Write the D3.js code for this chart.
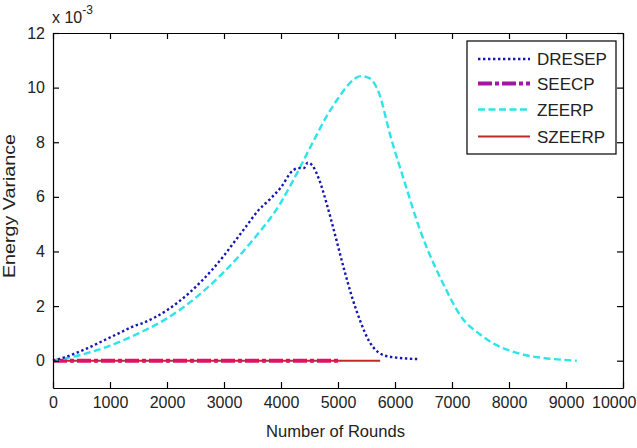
<!DOCTYPE html>
<html>
<head>
<meta charset="utf-8">
<script src="https://cdn.jsdelivr.net/npm/d3@7"></script>
<style>
  html, body { margin: 0; padding: 0; background: #fff; }
  svg { display: block; font-family: "Liberation Sans", Arial, sans-serif; }
</style>
</head>
<body>
<div id="chart"></div>
<script>
// --- data (y in units of 1e-3) ---------------------------------------
const xTicks = [0, 1000, 2000, 3000, 4000, 5000, 6000, 7000, 8000, 9000, 10000];
const yTicks = [0, 2, 4, 6, 8, 10, 12];

const dresepRounds = [0, 200, 400, 600, 800, 1000, 1200, 1400, 1600, 1800, 2000, 2200, 2400, 2600,
  2800, 3000, 3200, 3400, 3600, 3800, 4000, 4200, 4300, 4400, 4470, 4550, 4625, 4700, 4800,
  4950, 5100, 5250, 5400, 5550, 5700, 5800, 6000, 6200, 6390];
const dresepVar = [0, 0.12, 0.28, 0.45, 0.65, 0.85, 1.05, 1.25, 1.4, 1.6, 1.85, 2.15, 2.5, 2.9,
  3.35, 3.85, 4.4, 4.95, 5.5, 5.9, 6.35, 6.95, 7.05, 7.05, 7.25, 7.15, 6.86, 6.45, 5.76,
  4.6, 3.4, 2.3, 1.4, 0.7, 0.32, 0.2, 0.12, 0.08, 0.06];

const seecpRounds = [0, 1000, 2000, 3000, 4000, 5030];
const seecpVar = [0, 0, 0, 0, 0, 0];

const zeerpRounds = [0, 500, 1000, 1500, 2000, 2500, 3000, 3500, 4000, 4200,
  4560, 4800, 5000, 5200, 5400, 5550, 5700, 5940, 6140, 6440, 6900, 7140, 7500, 7800, 8000,
  8300, 8600, 8900, 9190];
const zeerpVar = [0, 0.22, 0.55, 1.0, 1.55, 2.3, 3.25, 4.4, 5.8, 6.55,
  8.0, 8.95, 9.6, 10.15, 10.42, 10.35, 9.9, 8.08, 6.73, 4.78, 2.59, 1.67, 0.95, 0.55, 0.38,
  0.2, 0.1, 0.04, 0.0];

const szeerpRounds = [0, 1000, 2000, 3000, 4000, 5000, 5740];
const szeerpVar = [0, 0, 0, 0, 0, 0, 0];
// ----------------------------------------------------------------------

(function () {
  const width = 637, height = 448;
  const margin = { top: 33, right: 14, bottom: 60, left: 53 };
  const w = width - margin.left - margin.right;
  const h = height - margin.top - margin.bottom;

  const series = [
    { name: "DRESEP", xs: dresepRounds, ys: dresepVar, color: "#1616b4", plotColor: "#1616b4",
      width: 2.4, dash: "2.4,2.6" },
    { name: "SEECP", xs: seecpRounds, ys: seecpVar, color: "#a814a8", plotColor: "#dc1464",
      width: 4, dash: "14,3,4,3" },
    { name: "ZEERP", xs: zeerpRounds, ys: zeerpVar, color: "#2ee4e8", plotColor: "#2ee4e8",
      width: 2.4, dash: "7,3.5" },
    { name: "SZEERP", xs: szeerpRounds, ys: szeerpVar, color: "#c0282a", plotColor: "#c0282a",
      width: 2, dash: null }
  ];

  const svg = d3.select("#chart").append("svg")
    .attr("width", width)
    .attr("height", height);

  const g = svg.append("g")
    .attr("transform", `translate(${margin.left},${margin.top})`);

  const x = d3.scaleLinear().domain([0, 10000]).range([0, w]);
  const y = d3.scaleLinear().domain([-1, 12]).range([h, 0]);

  g.append("rect")
    .attr("width", w).attr("height", h)
    .attr("fill", "#fff");

  const line = d3.line()
    .x(d => x(d[0]))
    .y(d => y(d[1]))
    .curve(d3.curveMonotoneX);

  // SZEERP underneath, the others on top
  [3, 1, 2, 0].forEach(i => {
    const s = series[i];
    g.append("path")
      .datum(s.xs.map((v, j) => [v, s.ys[j]]))
      .attr("fill", "none")
      .attr("stroke", s.plotColor)
      .attr("stroke-width", s.width)
      .attr("stroke-dasharray", s.dash)
      .attr("d", line);
  });

  // axes: inward ticks, MATLAB box
  const fontSize = "16px";
  const styleAxis = sel => {
    sel.select(".domain").attr("stroke", "#000").attr("stroke-width", 1.2);
    sel.selectAll(".tick line").attr("stroke", "#000").attr("stroke-width", 1.2);
    sel.selectAll("text").attr("fill", "#222").style("font-size", fontSize);
  };

  const xAxis = g.append("g")
    .attr("transform", `translate(0,${h})`)
    .call(d3.axisBottom(x).tickValues(xTicks).tickFormat(d3.format("d"))
      .tickSizeInner(-6).tickSizeOuter(0).tickPadding(9))
    .call(styleAxis);
  // last label would run off the page: pull it inside
  xAxis.selectAll(".tick text")
    .filter(d => d === 10000)
    .attr("text-anchor", "end")
    .attr("x", width - margin.left - w - 1);

  g.append("g")
    .call(d3.axisTop(x).tickValues(xTicks).tickSizeInner(-6).tickSizeOuter(0).tickFormat(""))
    .call(styleAxis);

  g.append("g")
    .call(d3.axisLeft(y).tickValues(yTicks).tickSizeInner(-6).tickSizeOuter(0).tickPadding(8))
    .call(styleAxis);

  g.append("g")
    .attr("transform", `translate(${w},0)`)
    .call(d3.axisRight(y).tickValues(yTicks).tickSizeInner(-6).tickSizeOuter(0).tickFormat(""))
    .call(styleAxis);

  // axis labels
  svg.append("text")
    .attr("x", 266)
    .attr("y", 437)
    .attr("textLength", 139)
    .attr("lengthAdjust", "spacingAndGlyphs")
    .attr("fill", "#222")
    .style("font-size", "16.5px")
    .text("Number of Rounds");

  svg.append("text")
    .attr("transform", "translate(15,278) rotate(-90)")
    .attr("textLength", 144)
    .attr("lengthAdjust", "spacingAndGlyphs")
    .attr("fill", "#222")
    .style("font-size", "16.5px")
    .text("Energy Variance");

  // exponent
  const expo = svg.append("text")
    .attr("x", 52).attr("y", 23)
    .attr("fill", "#222")
    .style("font-size", fontSize);
  expo.append("tspan").text("x 10");
  expo.append("tspan").attr("dy", -9).style("font-size", "12px").text("-3");

  // legend
  const lg = svg.append("g").attr("transform", "translate(467,41)");
  lg.append("rect")
    .attr("width", 149).attr("height", 113)
    .attr("fill", "#fff")
    .attr("stroke", "#000").attr("stroke-width", 1.2);

  const rowY = [18, 42.5, 68.5, 95.5];
  series.forEach((s, i) => {
    lg.append("line")
      .attr("x1", 11).attr("x2", 63)
      .attr("y1", rowY[i]).attr("y2", rowY[i])
      .attr("stroke", s.color)
      .attr("stroke-width", s.width)
      .attr("stroke-dasharray", s.dash);
    lg.append("text")
      .attr("x", 70).attr("y", rowY[i])
      .attr("dy", "0.36em")
      .attr("fill", "#222")
      .style("font-size", "17px")
      .text(s.name);
  });
})();
</script>
</body>
</html>
